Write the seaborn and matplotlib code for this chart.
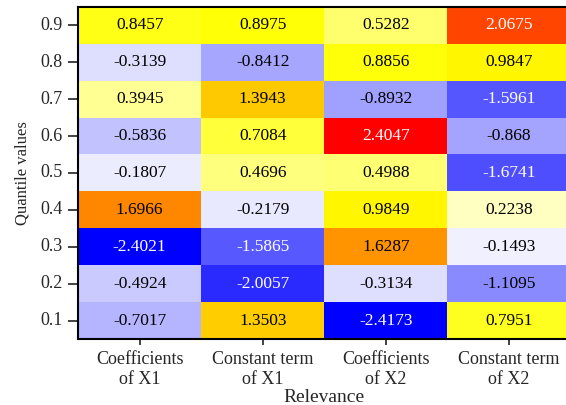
import numpy as np
import pandas as pd
import seaborn as sns
import matplotlib.pyplot as plt
from matplotlib.colors import LinearSegmentedColormap

# Datos del heatmap (filas: cuantiles de 0.9 a 0.1)
quantiles = ['0.9', '0.8', '0.7', '0.6', '0.5', '0.4', '0.3', '0.2', '0.1']
relevance = ['Coefficients\nof X1', 'Constant term\nof X1',
             'Coefficients\nof X2', 'Constant term\nof X2']
coef_x1 = [0.8457, -0.3139, 0.3945, -0.5836, -0.1807, 1.6966, -2.4021, -0.4924, -0.7017]
const_x1 = [0.8975, -0.8412, 1.3943, 0.7084, 0.4696, -0.2179, -1.5865, -2.0057, 1.3503]
coef_x2 = [0.5282, 0.8856, -0.8932, 2.4047, 0.4988, 0.9849, 1.6287, -0.3134, -2.4173]
const_x2 = [2.0675, 0.9847, -1.5961, -0.868, -1.6741, 0.2238, -0.1493, -1.1095, 0.7951]

df = pd.DataFrame({relevance[0]: coef_x1, relevance[1]: const_x1,
                   relevance[2]: coef_x2, relevance[3]: const_x2}, index=quantiles)

cmap = LinearSegmentedColormap.from_list('byr', [
    (0.0, '#0000ff'), (0.5, '#ffffff'), (0.69, '#ffff00'),
    (0.79, '#ffc800'), (0.85, '#ff8800'), (0.93, '#ff4400'), (1.0, '#ff0000')])

sns.set_style('white')
plt.rcParams['font.family'] = ['Liberation Serif', 'DejaVu Serif']

fig = plt.figure(figsize=(5.66, 4.05), dpi=100)
ax = fig.add_axes([0.138, 0.163, 0.87, 0.82])
sns.heatmap(df, cmap=cmap, vmin=-2.42, vmax=2.42, cbar=False, ax=ax,
            annot=False)

vals = df.values
for i in range(vals.shape[0]):
    for j in range(vals.shape[1]):
        v = vals[i, j]
        color = 'white' if (v < -1.5 or v > 2.0) else 'black'
        ax.text(j + 0.5, i + 0.5, f'{v:g}', ha='center', va='center',
                fontsize=12.5, color=color)

for side in ['left', 'top', 'bottom']:
    ax.spines[side].set_visible(True)
    ax.spines[side].set_color('black')
    ax.spines[side].set_linewidth(1.5)
ax.tick_params(axis='y', length=7, width=1.2, direction='out', left=True,
               labelsize=13, color='#222222', pad=4)
ax.tick_params(axis='x', length=4, width=1.2, direction='out', bottom=True,
               labelsize=13, color='#222222', pad=5)
ax.set_yticklabels(quantiles, rotation=0)
ax.set_xticklabels(relevance, rotation=0, linespacing=1.2)
ax.set_xlabel('Relevance', fontsize=14, labelpad=1)
ax.set_ylabel('Quantile values', fontsize=12, labelpad=7)

plt.savefig('out.png', dpi=100)
